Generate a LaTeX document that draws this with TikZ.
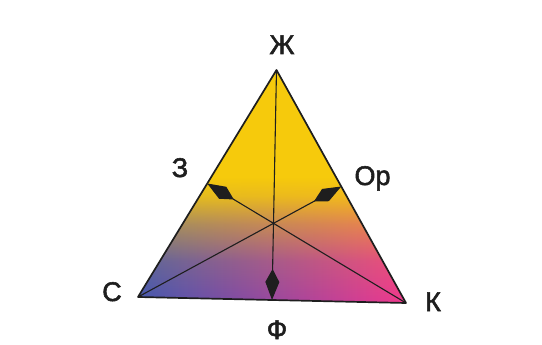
\documentclass[tikz,border=0pt]{standalone}
\usepackage{fontspec}
\newfontfamily\lblfont{Liberation Sans}[FakeBold=2]
\usepackage{xcolor}
\usetikzlibrary{arrows.meta, calc, fadings}
\definecolor{triyellow}{RGB}{246,202,12}
\definecolor{triblue}{RGB}{66,86,178}
\definecolor{tripurple}{RGB}{176,112,182}
\definecolor{trimagenta}{RGB}{240,56,142}
\definecolor{ink}{RGB}{30,30,30}
\pgfdeclareverticalshading{yfadeshade}{100bp}{color(0bp)=(pgftransparent); color(25bp)=(pgftransparent); color(34bp)=(pgftransparent!85); color(42bp)=(pgftransparent!50); color(48bp)=(pgftransparent!12); color(52bp)=(pgftransparent!0); color(100bp)=(pgftransparent!0)}
\tikzfading[name=yellowfade, shading=yfadeshade]
\tikzstyle{lbl} = [
font=\lblfont\fontsize{27}{30}\selectfont,
inner sep=0pt,
anchor=base,
text=ink
]
\tikzstyle{edge} = [
draw=ink,
line width=1.7pt,
line join=round
]
\tikzstyle{arrow} = [
line width=1.1pt,
-{Kite[length=31pt, width=14pt, inset=13pt]},
draw=ink
]

\begin{document}
\begin{tikzpicture}[x=1pt, y=-1pt]
			\useasboundingbox (0,0) rectangle (542,345);
			
			\coordinate (zh) at (276.5,70);
			\coordinate (s) at (138,297);
			\coordinate (k) at (406,303);
			
			\coordinate (z) at ($(zh)!0.5!(s)$);
			\coordinate (op) at ($(zh)!0.5!(k)$);
			\coordinate (f) at ($(s)!0.5!(k)$);
			
			\shade [left color=triblue, middle color=tripurple, right color=trimagenta] (zh) -- (s) -- (k) -- cycle;
			\fill [triyellow, path fading=yellowfade] (zh) -- (s) -- (k) -- cycle;
			
			\draw [arrow] (zh) -- (f);
			\draw [arrow] (k) -- (z);
			\draw [arrow] (s) -- (op);
			
			\draw [edge] (zh) -- (s) -- (k) -- cycle;
			
			\node (lzh) [lbl] at (282,54) {Ж};
			\node (lz) [lbl] at (180,177) {З};
			\node (lop) [lbl] at (372.5,185) {Ор};
			\node (ls) [lbl] at (112,301) {С};
			\node (lk) [lbl] at (433,311) {К};
			\node (lf) [lbl] at (277,339) {Ф};
			
		\end{tikzpicture}
\end{document}
